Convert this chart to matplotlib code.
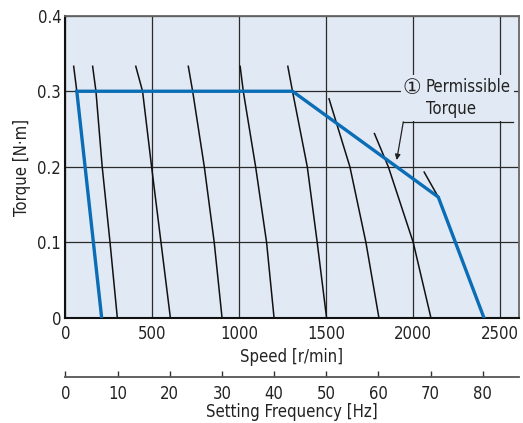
import matplotlib
matplotlib.use("Agg")
import matplotlib.pyplot as plt
from matplotlib import font_manager as fm
from matplotlib.patches import Rectangle

# pick a narrow sans if one is around, the chart uses a condensed face
fonts = fm.fontManager.ttflist
if any(f.name == 'Liberation Sans Narrow' for f in fonts):
    base, stretch = 'Liberation Sans Narrow', 'normal'
elif any(f.name == 'DejaVu Sans' and f.stretch == 'condensed' for f in fonts):
    base, stretch = 'DejaVu Sans', 'condensed'
else:
    base, stretch = 'Liberation Sans', 'normal'
plt.rcParams['font.family'] = [base, 'DejaVu Sans', 'Noto Sans CJK JP']
plt.rcParams['font.stretch'] = stretch

# speed-torque curves at each setting frequency (speed in r/min, torque in N·m)
curve_speeds = [
    [48, 66, 209],
    [157, 176, 212, 257, 299],
    [405, 444, 496, 550, 604],
    [707, 732, 799, 856, 901],
    [1005, 1023, 1094, 1157, 1200],
    [1279, 1306, 1391, 1448, 1502],
    [1516, 1636, 1728, 1803],
    [1777, 1857, 2000, 2102],
    [2063, 2144],
]
curve_torques = [
    [0.333, 0.3, 0.0],
    [0.333, 0.3, 0.2, 0.1, 0.0],
    [0.333, 0.3, 0.2, 0.1, 0.0],
    [0.333, 0.3, 0.2, 0.1, 0.0],
    [0.333, 0.3, 0.2, 0.1, 0.0],
    [0.333, 0.3, 0.2, 0.1, 0.0],
    [0.290, 0.2, 0.1, 0.0],
    [0.244, 0.2, 0.1, 0.0],
    [0.193, 0.160],
]

# permissible torque line
perm_speed = [209, 66, 1306, 2144, 2407]
perm_torque = [0.0, 0.3, 0.3, 0.160, 0.0]

speed_ticks = [0, 500, 1000, 1500, 2000, 2500]
torque_ticks = [0, 0.1, 0.2, 0.3, 0.4]
torque_labels = ['0', '0.1', '0.2', '0.3', '0.4']
freq_ticks = [0, 10, 20, 30, 40, 50, 60, 70, 80]

txt = '#222222'
fig = plt.figure(figsize=(5.23, 4.23), dpi=100)
ax = fig.add_axes([0.1249, 0.2482, 0.993 - 0.1249, 0.963 - 0.2482])
ax.set_facecolor('#e1e9f4')
ax.set_xlim(0, 2610)
ax.set_ylim(0, 0.4)
ax.set_xticks(speed_ticks)
ax.set_yticks(torque_ticks)
ax.set_yticklabels(torque_labels)
ax.grid(True, color='#2a2a2a', lw=0.9, zorder=1)
ax.set_axisbelow(True)
ax.tick_params(length=0, labelsize=12, colors=txt, pad=3)
ax.tick_params(axis='x', pad=5)

for s in ['left', 'bottom']:
    ax.spines[s].set_color('#111111')
    ax.spines[s].set_linewidth(1.5)
for s in ['top', 'right']:
    ax.spines[s].set_color('#666666')
    ax.spines[s].set_linewidth(1.3)

for xs, ys in zip(curve_speeds, curve_torques):
    ax.plot(xs, ys, color='#111111', lw=1.1, zorder=3)

ax.plot(perm_speed, perm_torque, color='#0a6db5', lw=2.4, zorder=4,
        solid_joinstyle='miter')

# label box hides the grid behind it
ax.add_patch(Rectangle((1929, 0.260), 650, 0.061, facecolor='#e1e9f4',
                       edgecolor='none', zorder=2))
ax.text(1991, 0.304, '①', fontsize=15, ha='center', va='center', color=txt, zorder=5,
        family=['DejaVu Sans', 'Noto Sans CJK JP'], stretch='normal')
ax.text(2073, 0.305, 'Permissible', fontsize=12, ha='left', va='center', color=txt, zorder=5)
ax.text(2073, 0.276, 'Torque', fontsize=12, ha='left', va='center', color=txt, zorder=5)
ax.plot([1941, 2573], [0.2595, 0.2595], color=txt, lw=0.9, zorder=5)
ax.annotate('', xy=(1905, 0.209), xytext=(1943, 0.2595),
            arrowprops=dict(arrowstyle='-|>', color=txt, lw=0.9,
                            mutation_scale=8, shrinkA=0, shrinkB=0), zorder=5)

fig.text(0.558, 1 - 357 / 423, 'Speed [r/min]', fontsize=12, color=txt,
         ha='center', va='center')
fig.text(0.043, 0.605, 'Torque [N·m]', fontsize=12, color=txt,
         ha='center', va='center', rotation=90)

# setting frequency scale
ax2 = fig.add_axes([0.1249, 0.1087, 0.993 - 0.1249, 0.0001])
ax2.set_xlim(0, 87)
ax2.set_xticks(freq_ticks)
ax2.set_yticks([])
ax2.patch.set_visible(False)
for s in ['left', 'right', 'top']:
    ax2.spines[s].set_visible(False)
ax2.spines['bottom'].set_color('#555555')
ax2.spines['bottom'].set_linewidth(1.3)
ax2.tick_params(axis='x', direction='in', length=4, width=1, color='#333333',
                labelsize=12, labelcolor=txt, pad=6)
fig.text(0.558, 1 - 412 / 423, 'Setting Frequency [Hz]', fontsize=12, color=txt,
         ha='center', va='center')

fig.savefig('out.png', dpi=100)
